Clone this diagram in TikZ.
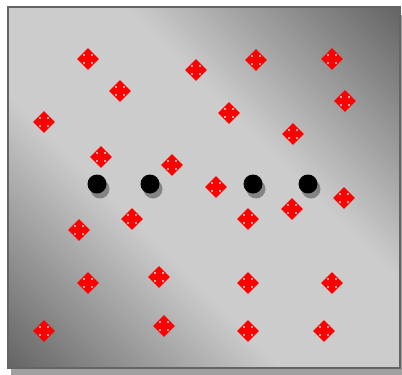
\documentclass[tikz,border=0pt]{standalone}
\usetikzlibrary{shadows}
\definecolor{framegray}{HTML}{646464}
\definecolor{panelgray}{HTML}{CCCCCC}
\definecolor{shadowgray}{HTML}{A0A0A0}
\definecolor{pipwhite}{HTML}{F2DADA}
\pgfdeclareverticalshading{boardshade}{100bp}{color(0bp)=(framegray); color(14.5bp)=(framegray);
  color(40.3bp)=(panelgray); color(59.7bp)=(panelgray); color(85.5bp)=(framegray); color(100bp)=(framegray)}

\begin{document}
\begin{tikzpicture}[x=1pt, y=-1pt,
  die/.style={rectangle, rotate=45, fill=red, minimum size=15.5pt, inner sep=0pt},
  pip/.style={fill=pipwhite},
  token/.style={circle, fill=black, minimum size=19pt, inner sep=0pt,
    drop shadow={shadow xshift=3pt, shadow yshift=-5pt, fill=black, opacity=0.35}}]
  \useasboundingbox (0,0) rectangle (402,375);
  % board and its shadow
  \fill[shadowgray] (11,15) rectangle (402,375);
  \shade[shading=boardshade, shading angle=-45] (8,7) rectangle (400,368);
  \draw[framegray, line width=1.5pt] (8,7) rectangle (400,368);
  % dice, four pips each
  \foreach \x/\y [count=\i] in {88/59, 120/91, 196/70, 256/60, 332/59, 345/101, 229/113, 293/134,
      44/122, 101/157, 172/165, 216/187, 344/198, 292/209, 248/219, 132/219, 79/230,
      88/283, 159/277, 248/283, 332/283, 44/331, 164/326, 248/331, 324/331}{
    \node[die] (d\i) at (\x,\y) {};
    \foreach \dx/\dy in {-4/-4, 4/-4, -4/4, 4/4}
      \fill[pip] (d\i.center) ++(\dx,\dy) circle (1.1pt);
  }
  % tokens on the middle row
  \foreach \x [count=\i] in {97, 150, 253, 308}
    \node[token] (c\i) at (\x,184) {};
\end{tikzpicture}
\end{document}
